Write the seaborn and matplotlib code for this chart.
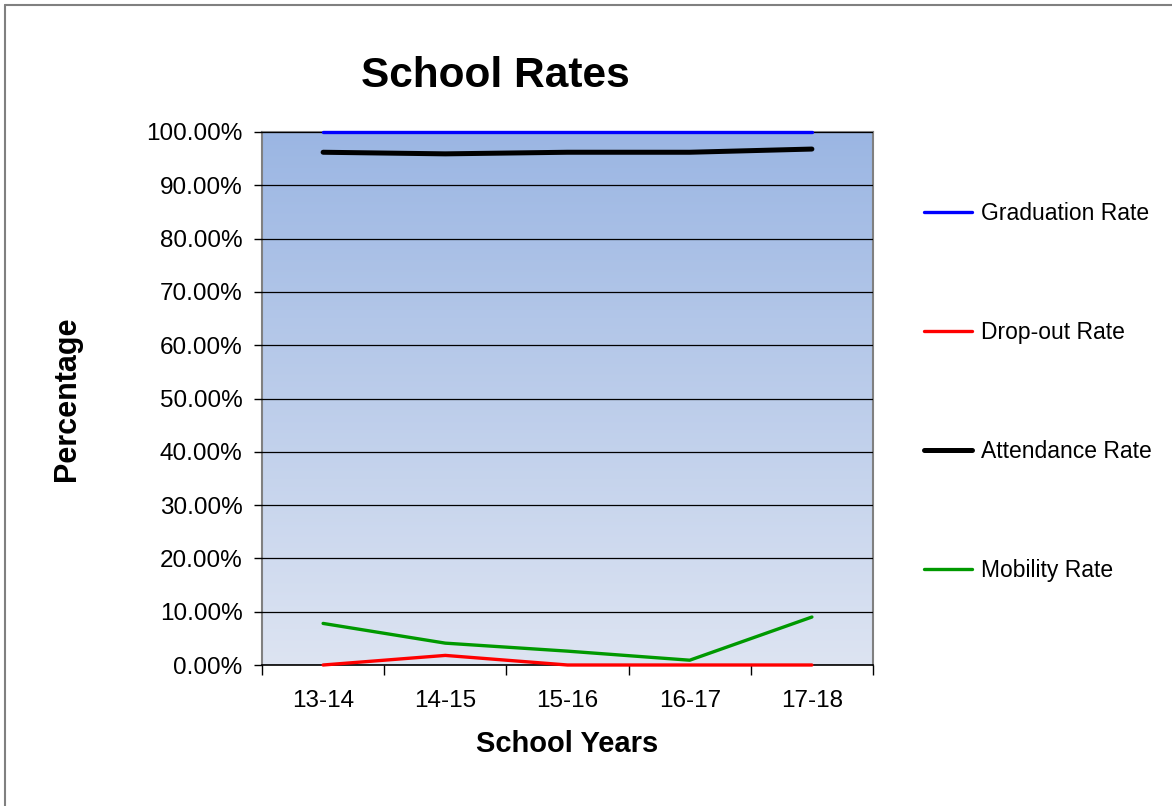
import numpy as np
import pandas as pd
import matplotlib
matplotlib.use("Agg")
import matplotlib.pyplot as plt
from matplotlib.ticker import PercentFormatter, FixedLocator
from matplotlib.lines import Line2D
import seaborn as sns

years = ["13-14", "14-15", "15-16", "16-17", "17-18"]
graduation = [1.0, 1.0, 1.0, 1.0, 1.0]
dropout = [0.0, 0.018, 0.0, 0.0, 0.0]
attendance = [0.962, 0.959, 0.962, 0.962, 0.968]
mobility = [0.078, 0.041, 0.026, 0.009, 0.090]
series_names = ["Graduation Rate", "Drop-out Rate", "Attendance Rate", "Mobility Rate"]
colors = ["#0000FF", "#FF0000", "#000000", "#009900"]
widths = [2.4, 2.4, 3.6, 2.4]

rows = []
for name, vals in zip(series_names, [graduation, dropout, attendance, mobility]):
    for i, (y, v) in enumerate(zip(years, vals)):
        rows.append({"pos": i, "year": y, "value": v, "series": name})
df = pd.DataFrame(rows)

sns.set_theme(style="white")
plt.rcParams["font.family"] = ["Liberation Sans", "DejaVu Sans"]
plt.rcParams["text.color"] = "black"
plt.rcParams["axes.labelcolor"] = "black"
plt.rcParams["xtick.color"] = "black"
plt.rcParams["ytick.color"] = "black"

fig = plt.figure(figsize=(11.72, 8.06), dpi=100)
ax = fig.add_axes([262/1172, 1-665/806, (873-262)/1172, (665-132)/806])

# gradient background
top = np.array([0x9B, 0xB6, 0xE3]) / 255
bot = np.array([0xDD, 0xE4, 0xF2]) / 255
t = np.linspace(0, 1, 256)[:, None]
grad = (top * (1 - t) + bot * t)[:, None, :].repeat(2, axis=1)
ax.imshow(grad, extent=[-0.5, 4.5, 0, 1], aspect="auto", zorder=0, origin="upper")

for name, c, lw in zip(series_names, colors, widths):
    sub = df[df["series"] == name]
    sns.lineplot(data=sub, x="pos", y="value", color=c, linewidth=lw, ax=ax,
                 legend=False, zorder=3, clip_on=False)

ax.set_xlim(-0.5, 4.5)
ax.set_ylim(0, 1)
ax.yaxis.set_major_locator(FixedLocator(np.linspace(0, 1, 11)))
ax.yaxis.set_major_formatter(PercentFormatter(1.0, decimals=2))
ax.grid(axis="y", color="black", linewidth=0.9, zorder=1)
ax.grid(axis="x", visible=False)
ax.set_axisbelow(False)

ax.set_xticks(np.arange(-0.5, 5, 1))
ax.set_xticklabels([])
ax.set_xticks(range(len(years)), minor=True)
ax.set_xticklabels(years, minor=True)
ax.tick_params(axis="x", which="major", direction="out", length=7, width=1, color="black", bottom=True)
ax.tick_params(axis="x", which="minor", length=0, pad=18, labelsize=17.5)
ax.tick_params(axis="y", direction="out", length=6, width=1, color="black", left=True, labelsize=17.5, pad=8)

for s in ["top", "right", "left"]:
    ax.spines[s].set_color("#808080")
    ax.spines[s].set_linewidth(1.5)
ax.spines["bottom"].set_color("black")
ax.spines["bottom"].set_linewidth(1.2)

ax.set_xlabel("School Years", fontsize=21, fontweight="bold", labelpad=13)
ax.set_ylabel("Percentage", fontsize=22, fontweight="bold", labelpad=46)
fig.text(495/1172, 1-76/806, "School Rates", fontsize=30.5, fontweight="bold",
         ha="center", va="center")

handles = [Line2D([0], [0], color=c, linewidth=lw) for c, lw in zip(colors, widths)]
fig.legend(handles, series_names, loc="upper left", bbox_to_anchor=(915/1172, 1-193/806),
           frameon=False, fontsize=16.5, handlelength=2.1, handletextpad=0.4,
           labelspacing=4.18, borderaxespad=0)

# figure border (left and top)
fig.add_artist(Line2D([5/1172, 5/1172], [0, 1-5/806], color="#808080", linewidth=1.5,
                      transform=fig.transFigure))
fig.add_artist(Line2D([5/1172, 1], [1-5/806, 1-5/806], color="#808080", linewidth=1.5,
                      transform=fig.transFigure))

fig.savefig("out.png", dpi=100, facecolor="white")
